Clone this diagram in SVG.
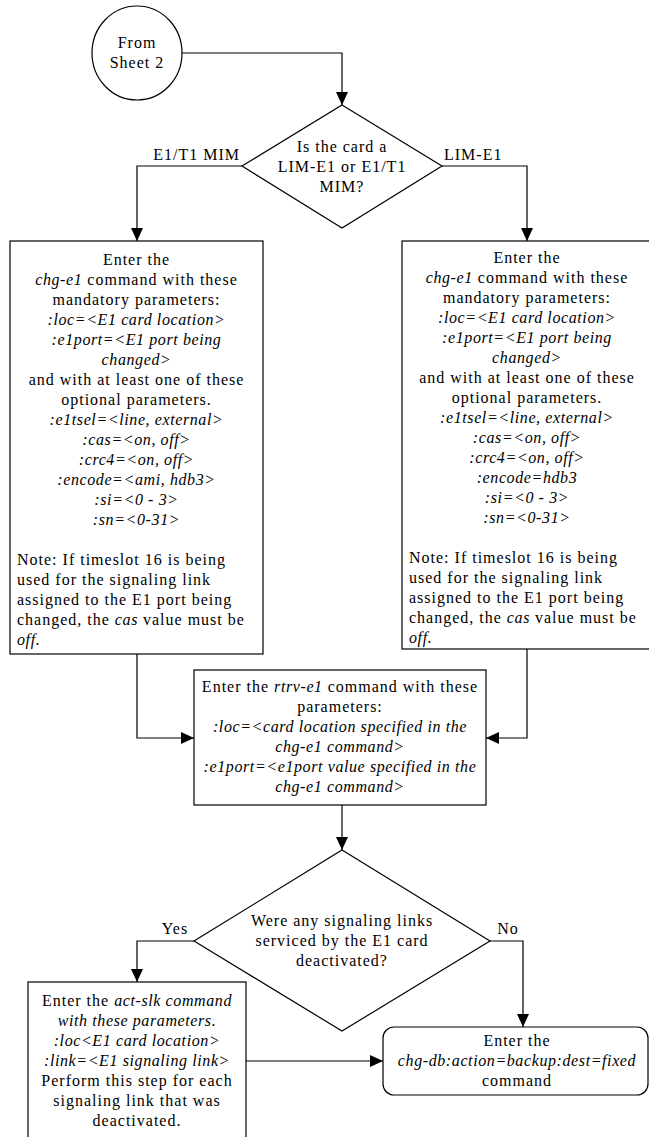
<svg xmlns="http://www.w3.org/2000/svg" width="649" height="1137" viewBox="0 0 649 1137">
<style>
.s{fill:#fff;stroke:#000;stroke-width:1.2}
.c{fill:none;stroke:#000;stroke-width:1.2}
text{font-family:"Liberation Serif","Times New Roman",serif;font-size:16px;letter-spacing:1px;fill:#000}
.m{text-anchor:middle}
.i{font-style:italic;letter-spacing:0.6px}
</style>
<defs>
<marker id="a" markerUnits="userSpaceOnUse" markerWidth="13" markerHeight="12" refX="13" refY="6" orient="auto">
<path d="M0,0 L13,6 L0,12 z" fill="#000"/>
</marker>
</defs>
<rect width="649" height="1137" fill="#fff"/>
<g id="connectors">
<path class="c" d="M182,53 H342 V105" marker-end="url(#a)"/>
<path class="c" d="M242,166 H137 V241" marker-end="url(#a)"/>
<path class="c" d="M442,166 H527 V241" marker-end="url(#a)"/>
<path class="c" d="M137,654 V738 H194" marker-end="url(#a)"/>
<path class="c" d="M527,649 V738 H486" marker-end="url(#a)"/>
<path class="c" d="M342,805 V850" marker-end="url(#a)"/>
<path class="c" d="M194,941 H137 V982" marker-end="url(#a)"/>
<path class="c" d="M490,941 H523 V1027" marker-end="url(#a)"/>
<path class="c" d="M246,1061 H383" marker-end="url(#a)"/>
<text x="240" y="160" text-anchor="end">E1/T1 MIM</text>
<text x="444" y="160">LIM-E1</text>
<text x="175" y="934" class="m">Yes</text>
<text x="508" y="934" class="m">No</text>
</g>
<g id="start">
<ellipse class="s" cx="137" cy="53" rx="45" ry="47"/>
<text x="137" y="48" class="m">From</text>
<text x="137" y="68" class="m">Sheet 2</text>
</g>
<g id="decision1">
<polygon class="s" points="342,105 442,166 342,228 242,166"/>
<text x="342" y="152" class="m">Is the card a</text>
<text x="342" y="172" class="m">LIM-E1 or E1/T1</text>
<text x="342" y="192" class="m">MIM?</text>
</g>
<g id="chg-e1-mim">
<rect class="s" x="10" y="241" width="253" height="413"/>
<text x="136.5" y="265" class="m">Enter the</text>
<text x="136.5" y="285" class="m"><tspan class="i">chg-e1</tspan> command with these</text>
<text x="136.5" y="305" class="m">mandatory parameters:</text>
<text x="136.5" y="325" class="m i">:loc=&lt;E1 card location&gt;</text>
<text x="136.5" y="345" class="m i">:e1port=&lt;E1 port being</text>
<text x="136.5" y="365" class="m i">changed&gt;</text>
<text x="136.5" y="385" class="m">and with at least one of these</text>
<text x="136.5" y="405" class="m">optional parameters.</text>
<text x="136.5" y="425" class="m i">:e1tsel=&lt;line, external&gt;</text>
<text x="136.5" y="445" class="m i">:cas=&lt;on, off&gt;</text>
<text x="136.5" y="465" class="m i">:crc4=&lt;on, off&gt;</text>
<text x="136.5" y="485" class="m i">:encode=&lt;ami, hdb3&gt;</text>
<text x="136.5" y="505" class="m i">:si=&lt;0 - 3&gt;</text>
<text x="136.5" y="525" class="m i">:sn=&lt;0-31&gt;</text>
<text x="17" y="565">Note: If timeslot 16 is being</text>
<text x="17" y="585">used for the signaling link</text>
<text x="17" y="605">assigned to the E1 port being</text>
<text x="17" y="625">changed, the <tspan class="i">cas</tspan> value must be</text>
<text x="17" y="645" class="i">off.</text>
</g>
<g id="chg-e1-lim">
<rect class="s" x="402" y="241" width="250" height="408"/>
<text x="527" y="263" class="m">Enter the</text>
<text x="527" y="283" class="m"><tspan class="i">chg-e1</tspan> command with these</text>
<text x="527" y="303" class="m">mandatory parameters:</text>
<text x="527" y="323" class="m i">:loc=&lt;E1 card location&gt;</text>
<text x="527" y="343" class="m i">:e1port=&lt;E1 port being</text>
<text x="527" y="363" class="m i">changed&gt;</text>
<text x="527" y="383" class="m">and with at least one of these</text>
<text x="527" y="403" class="m">optional parameters.</text>
<text x="527" y="423" class="m i">:e1tsel=&lt;line, external&gt;</text>
<text x="527" y="443" class="m i">:cas=&lt;on, off&gt;</text>
<text x="527" y="463" class="m i">:crc4=&lt;on, off&gt;</text>
<text x="527" y="483" class="m i">:encode=hdb3</text>
<text x="527" y="503" class="m i">:si=&lt;0 - 3&gt;</text>
<text x="527" y="523" class="m i">:sn=&lt;0-31&gt;</text>
<text x="409" y="563">Note: If timeslot 16 is being</text>
<text x="409" y="583">used for the signaling link</text>
<text x="409" y="603">assigned to the E1 port being</text>
<text x="409" y="623">changed, the <tspan class="i">cas</tspan> value must be</text>
<text x="409" y="643" class="i">off.</text>
</g>
<g id="rtrv-e1">
<rect class="s" x="194" y="670" width="292" height="135"/>
<text x="340" y="692" class="m">Enter the <tspan class="i">rtrv-e1</tspan> command with these</text>
<text x="340" y="712" class="m">parameters:</text>
<text x="340" y="732" class="m i">:loc=&lt;card location specified in the</text>
<text x="340" y="752" class="m i">chg-e1 command&gt;</text>
<text x="340" y="772" class="m i">:e1port=&lt;e1port value specified in the</text>
<text x="340" y="792" class="m i">chg-e1 command&gt;</text>
</g>
<g id="decision2">
<polygon class="s" points="342,850 490,941 342,1031 194,941"/>
<text x="342" y="926" class="m">Were any signaling links</text>
<text x="342" y="946" class="m">serviced by the E1 card</text>
<text x="342" y="966" class="m">deactivated?</text>
</g>
<g id="act-slk">
<rect class="s" x="28" y="982" width="218" height="165"/>
<text x="137" y="1006" class="m">Enter the <tspan class="i">act-slk command</tspan></text>
<text x="137" y="1026" class="m i">with these parameters.</text>
<text x="137" y="1046" class="m i">:loc&lt;E1 card location&gt;</text>
<text x="137" y="1066" class="m i">:link=&lt;E1 signaling link&gt;</text>
<text x="137" y="1086" class="m">Perform this step for each</text>
<text x="137" y="1106" class="m">signaling link that was</text>
<text x="137" y="1126" class="m">deactivated.</text>
</g>
<g id="chg-db">
<rect class="s" x="383" y="1027" width="265" height="68" rx="11"/>
<text x="517" y="1046" class="m">Enter the</text>
<text x="517" y="1066" class="m i">chg-db:action=backup:dest=fixed</text>
<text x="517" y="1086" class="m">command</text>
</g>
</svg>
